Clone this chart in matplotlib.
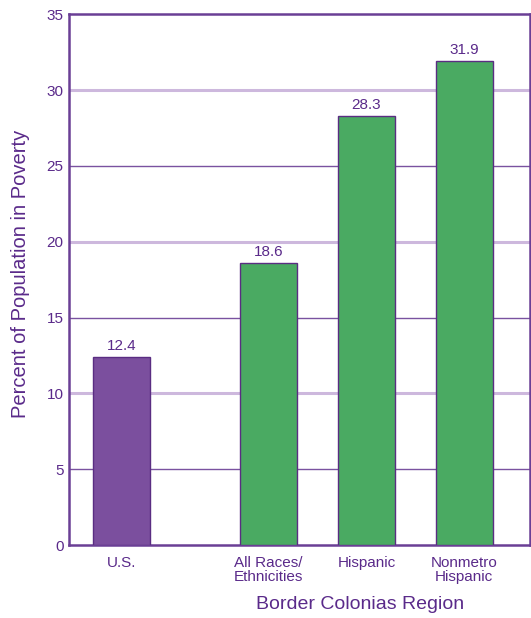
import numpy as np
import matplotlib.pyplot as plt

# Poverty rates, border colonias region vs U.S.
categories = ["U.S.", "All Races/\nEthnicities", "Hispanic", "Nonmetro\nHispanic"]
positions = [0, 1.5, 2.5, 3.5]
values = [12.4, 18.6, 28.3, 31.9]
value_labels = ["12.4", "18.6", "28.3", "31.9"]
yticks = [0, 5, 10, 15, 20, 25, 30, 35]

purple = "#7b4f9e"
green = "#4aaa62"
text_col = "#5a2a8a"
edge_col = "#5a2d82"

plt.rcParams["font.family"] = ["Liberation Sans Narrow", "Liberation Sans", "DejaVu Sans"]

fig = plt.figure(figsize=(5.31, 6.18), dpi=100)
ax = fig.add_axes([0.130, 0.118, 0.868, 0.859])

colors = [purple, green, green, green]
bars = ax.bar(positions, values, width=0.58, color=colors, edgecolor=edge_col,
              linewidth=1.0, zorder=3)

for b, lab in zip(bars, value_labels):
    ax.text(b.get_x() + b.get_width() / 2, b.get_height() + 0.25, lab,
            ha="center", va="bottom", color=text_col, fontsize=11)

# gridlines: light at multiples of 10, darker thin at odd 5s
for t in yticks[1:-1]:
    if t % 10 == 0:
        ax.axhline(t, color="#cdb8dd", linewidth=2.2, zorder=1)
    else:
        ax.axhline(t, color="#7a52a0", linewidth=1.0, zorder=1)

ax.set_ylim(0, 35)
ax.set_xlim(-0.536, 4.17)
ax.set_yticks(yticks)
ax.set_xticks(positions)
ax.set_xticklabels(categories, linespacing=1.0)
ax.tick_params(length=0, colors=text_col, labelsize=11, pad=4)
ax.tick_params(axis="x", pad=8)

for s in ax.spines.values():
    s.set_color("#6a3f95")
    s.set_linewidth(1.8)

ax.set_ylabel("Percent of Population in Poverty", color=text_col, fontsize=14.5)
ax.yaxis.set_label_coords(-0.084, 0.51)
ax.text(2.44, -3.95, "Border Colonias Region", ha="center", va="center",
        color=text_col, fontsize=14)

plt.savefig("out.png", dpi=100)
